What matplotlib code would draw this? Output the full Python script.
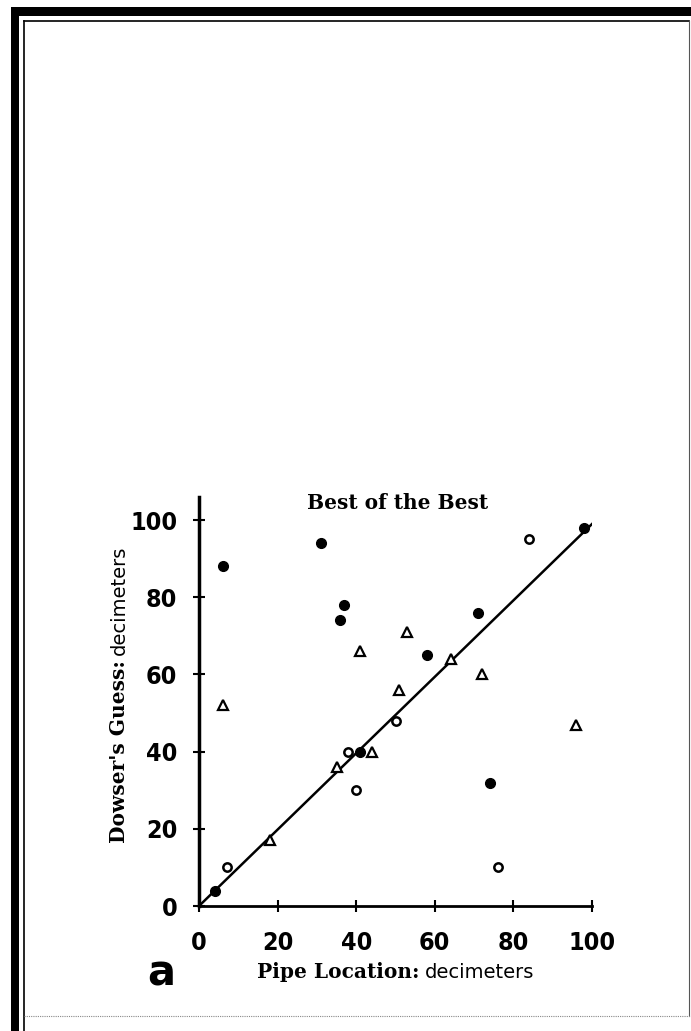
import matplotlib
matplotlib.use("Agg")
from matplotlib import pyplot as plt
from matplotlib.patches import Rectangle
from matplotlib.lines import Line2D

# data (decimeters)
filled_x = [4, 6, 31, 37, 36, 71, 58, 98, 74, 41]
filled_y = [4, 88, 94, 78, 74, 76, 65, 98, 32, 40]

open_x = [7, 40, 76, 84, 50, 38]
open_y = [10, 30, 10, 95, 48, 40]

tri_x = [6, 18, 35, 41, 53, 51, 44, 64, 72, 96]
tri_y = [52, 17, 36, 66, 71, 56, 40, 64, 60, 47]

fit_x = [0, 100]
fit_y = [0, 99]

ticks = [0, 20, 40, 60, 80, 100]
title = "Best of the Best"

W, H = 691, 1031
fx = lambda x: x / W
fy = lambda y: 1 - y / H

fig = plt.figure(figsize=(W / 100, H / 100), dpi=100)

# page frame
fig.add_artist(Rectangle((fx(11), 0), 8 / W, fy(7), transform=fig.transFigure, color="black", lw=0))
fig.add_artist(Rectangle((fx(11), fy(16)), (W - 11) / W, 9 / H, transform=fig.transFigure, color="black", lw=0))
fig.add_artist(Line2D([fx(24), fx(24)], [0, fy(21)], transform=fig.transFigure, color="black", lw=1.2))
fig.add_artist(Line2D([fx(24), fx(689)], [fy(21), fy(21)], transform=fig.transFigure, color="black", lw=1.2))
fig.add_artist(Line2D([fx(689), fx(689)], [fy(21), fy(1016)], transform=fig.transFigure, color="#555555", lw=0.8))
fig.add_artist(Line2D([fx(24), fx(691)], [fy(1016), fy(1016)], transform=fig.transFigure, color="#888888", lw=0.8, ls=(0, (1, 1))))

ax = fig.add_axes([fx(199), fy(906), 393 / W, 409 / H])
ax.set_xlim(0, 100)
ax.set_ylim(0, 106)

ax.plot(fit_x, fit_y, color="black", lw=1.8, zorder=2)
ax.plot(filled_x, filled_y, "o", color="black", ms=7, zorder=3, clip_on=False)
ax.plot(open_x, open_y, "o", mfc="white", mec="black", mew=1.8, ms=6, zorder=3, clip_on=False)
ax.plot(tri_x, tri_y, "^", mfc="white", mec="black", mew=1.6, ms=7, zorder=3, clip_on=False)

for s in ["top", "right"]:
    ax.spines[s].set_visible(False)
ax.spines["left"].set_linewidth(2.5)
ax.spines["bottom"].set_linewidth(2)

ax.set_xticks(ticks)
ax.set_yticks(ticks)
tickfont = dict(family="DejaVu Sans", weight="heavy", stretch="condensed", size=18)
ax.set_xticklabels([str(t) for t in ticks], fontdict=tickfont)
ax.set_yticklabels([str(t) for t in ticks], fontdict=tickfont)
ax.tick_params(axis="both", direction="inout", length=8, width=1.5)
ax.tick_params(axis="y", pad=11.5)
ax.tick_params(axis="x", pad=14)

ax.text(50.5, 104.5, title, ha="center", va="center", family="DejaVu Serif",
        weight="bold", fontsize=14.5)

# y label: bold part then regular part
heavy = dict(family="DejaVu Serif", weight="bold", fontsize=14.5)
light = dict(family="DejaVu Sans", fontsize=14)

t1 = fig.text(fx(125), fy(843), "Dowser's Guess:", rotation=90, rotation_mode="anchor",
              ha="left", va="baseline", **heavy)
ax.annotate("decimeters", xy=(fx(125), 1), xycoords=("figure fraction", t1),
            xytext=(0, 4), textcoords="offset points", rotation=90, rotation_mode="anchor",
            ha="left", va="baseline", annotation_clip=False, **light)

# x label
t2 = fig.text(fx(257), fy(978), "Pipe Location:", ha="left", va="baseline", **heavy)
ax.annotate("decimeters", xy=(1, fy(978)), xycoords=(t2, "figure fraction"),
            xytext=(4, 0), textcoords="offset points", ha="left", va="baseline",
            annotation_clip=False, **light)

fig.text(fx(147), fy(985), "a", fontsize=30, weight="bold", family="DejaVu Sans", va="baseline")

plt.savefig("out.png", dpi=100)
